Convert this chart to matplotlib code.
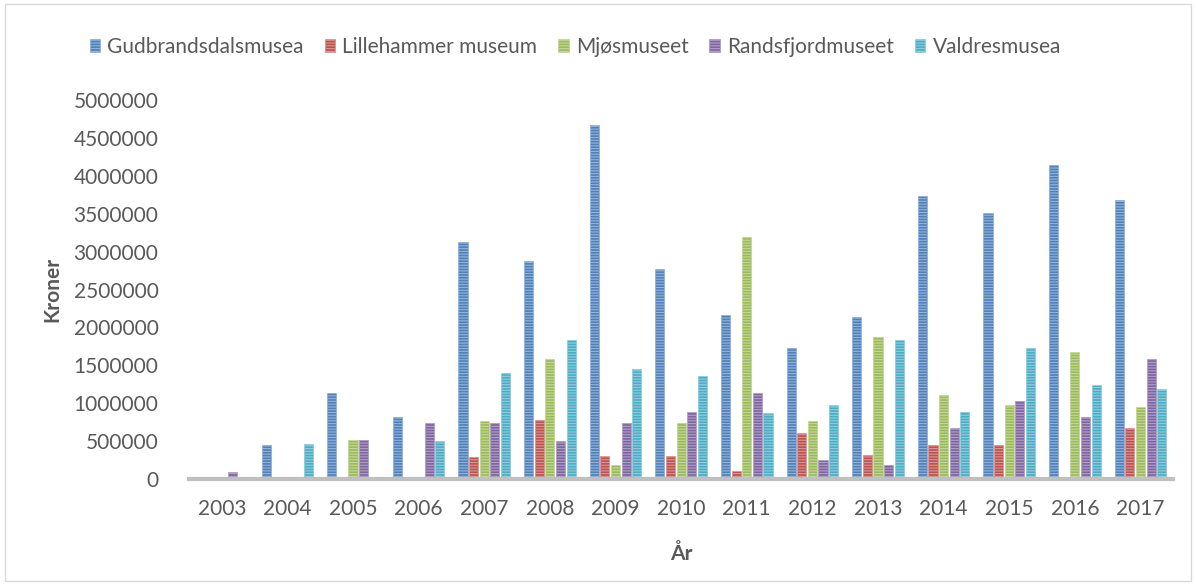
import numpy as np
import matplotlib.pyplot as plt
from matplotlib.patches import Rectangle

years = ['2003', '2004', '2005', '2006', '2007', '2008', '2009', '2010',
         '2011', '2012', '2013', '2014', '2015', '2016', '2017']

gudbrandsdal = [0, 445000, 1130000, 814000, 3123000, 2872000, 4670000, 2766000,
                2168000, 1728000, 2133000, 3734000, 3505000, 4138000, 3681000]
lillehammer = [0, 0, 30000, 0, 286000, 778000, 303000, 303000,
               110000, 603000, 321000, 445000, 445000, 20000, 673000]
mjos = [0, 0, 515000, 0, 761000, 1587000, 180000, 743000,
        3193000, 761000, 1869000, 1112000, 972000, 1675000, 954000]
randsfjord = [88000, 0, 515000, 743000, 743000, 497000, 743000, 884000,
              1130000, 251000, 180000, 673000, 1025000, 814000, 1587000]
valdres = [0, 462000, 0, 497000, 1394000, 1834000, 1447000, 1359000,
           866000, 972000, 1834000, 884000, 1728000, 1236000, 1183000]

names = ['Gudbrandsdalsmusea', 'Lillehammer museum', 'Mjøsmuseet',
         'Randsfjordmuseet', 'Valdresmusea']
colors = ['#4F81BD', '#C0504D', '#9BBB59', '#8064A2', '#4BACC6']
hatch_cols = ['#95B3D7', '#DA9694', '#C4D79B', '#B1A0C7', '#92CDDC']

plt.rcParams['font.family'] = ['Lato', 'DejaVu Sans']
plt.rcParams['hatch.linewidth'] = 0.8

fig = plt.figure(figsize=(11.96, 5.85), dpi=100)
ax = fig.add_axes([0.158, 0.181, 0.823, 0.648])

x = np.arange(len(years))
series = [gudbrandsdal, lillehammer, mjos, randsfjord, valdres]
for i, (vals, name) in enumerate(zip(series, names)):
    ax.bar(x + (i - 2) * 0.162, vals, width=0.14, color=colors[i],
           edgecolor=hatch_cols[i], linewidth=0.6, hatch='------', label=name)

ax.set_xlim(-0.5, len(years) - 0.5)
ax.set_ylim(0, 5000000)
ax.set_yticks(np.arange(0, 5000001, 500000))
ax.set_yticklabels([str(v) for v in range(0, 5000001, 500000)])
ax.set_xticks(x)
ax.set_xticklabels(years)
ax.tick_params(axis='both', length=0, labelsize=15, colors='#595959')
ax.tick_params(axis='x', pad=14)
ax.tick_params(axis='y', pad=22)

for s in ['top', 'right', 'left']:
    ax.spines[s].set_visible(False)
ax.spines['bottom'].set_color('#BFBFBF')
ax.spines['bottom'].set_linewidth(3)

ax.set_xlabel('År', fontsize=15, fontweight='bold', color='#595959', labelpad=18)
ax.set_ylabel('Kroner', fontsize=15, fontweight='bold', color='#595959', labelpad=8)

fig.legend(loc='center', bbox_to_anchor=(0.481, 0.92), ncol=5, frameon=False,
           fontsize=15, handlelength=0.5, handleheight=0.6, handletextpad=0.35,
           columnspacing=1.0, labelcolor='#595959')

fig.patches.append(Rectangle((0.004, 0.006), 0.992, 0.988, transform=fig.transFigure,
                             fill=False, edgecolor='#D9D9D9', linewidth=1))

plt.savefig('out.png', dpi=100)
